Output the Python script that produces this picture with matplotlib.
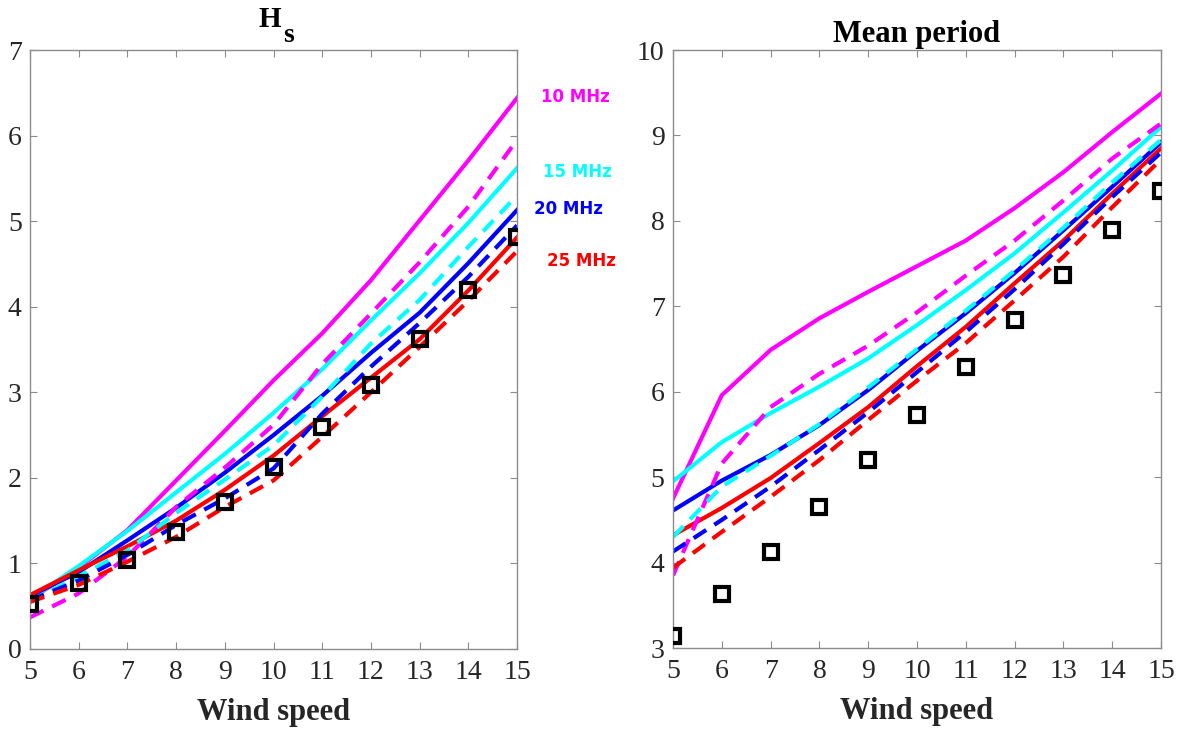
import matplotlib
matplotlib.use("Agg")
import matplotlib.pyplot as plt

wind = [5, 6, 7, 8, 9, 10, 11, 12, 13, 14, 15]
freqs = ["10 MHz", "15 MHz", "20 MHz", "25 MHz"]
colors = ["#ff00ff", "#00ffff", "#0000ff", "#ff0000"]

# significant wave height, solid = one method, dashed = the other
hs_solid = [
    [0.58, 0.95, 1.39, 1.97, 2.55, 3.14, 3.69, 4.31, 5.01, 5.71, 6.44],
    [0.58, 0.97, 1.38, 1.83, 2.28, 2.76, 3.27, 3.84, 4.39, 4.98, 5.62],
    [0.62, 0.90, 1.27, 1.65, 2.06, 2.50, 2.96, 3.46, 3.93, 4.51, 5.13],
    [0.63, 0.92, 1.20, 1.50, 1.86, 2.26, 2.72, 3.17, 3.62, 4.19, 4.81],
]
hs_dashed = [
    [0.37, 0.65, 1.08, 1.66, 2.12, 2.62, 3.33, 3.92, 4.52, 5.17, 5.95],
    [0.55, 0.85, 1.15, 1.59, 1.98, 2.38, 2.95, 3.57, 4.08, 4.70, 5.30],
    [0.57, 0.80, 1.10, 1.45, 1.76, 2.11, 2.75, 3.30, 3.81, 4.35, 4.95],
    [0.55, 0.75, 1.02, 1.31, 1.66, 1.97, 2.48, 3.00, 3.53, 4.07, 4.65],
]
hs_obs = [0.53, 0.77, 1.04, 1.37, 1.72, 2.13, 2.59, 3.08, 3.62, 4.19, 4.81]

# mean period
tm_solid = [
    [4.75, 5.96, 6.49, 6.86, 7.17, 7.47, 7.77, 8.15, 8.57, 9.04, 9.49],
    [4.95, 5.41, 5.75, 6.06, 6.39, 6.78, 7.19, 7.62, 8.10, 8.59, 9.10],
    [4.61, 4.96, 5.26, 5.61, 6.02, 6.48, 6.92, 7.39, 7.89, 8.40, 8.92],
    [4.32, 4.64, 4.99, 5.40, 5.82, 6.30, 6.76, 7.27, 7.77, 8.32, 8.85],
]
tm_dashed = [
    [3.85, 5.16, 5.82, 6.21, 6.54, 6.93, 7.36, 7.77, 8.24, 8.73, 9.14],
    [4.30, 4.89, 5.25, 5.62, 6.05, 6.50, 6.95, 7.42, 7.92, 8.45, 8.95],
    [4.13, 4.50, 4.89, 5.32, 5.76, 6.23, 6.70, 7.20, 7.73, 8.28, 8.80],
    [3.94, 4.36, 4.77, 5.20, 5.67, 6.13, 6.57, 7.07, 7.58, 8.16, 8.72],
]
tm_obs = [3.14, 3.63, 4.13, 4.65, 5.20, 5.73, 6.29, 6.84, 7.37, 7.89, 8.35]

plt.rcParams["font.family"] = ["Liberation Serif", "DejaVu Serif"]

fig = plt.figure(figsize=(11.83, 7.31), dpi=100)
ax1 = fig.add_axes([0.0254, 0.1122, 0.4117, 0.8194])
ax2 = fig.add_axes([0.5689, 0.1135, 0.4125, 0.818])


def draw(ax, solid, dashed, obs):
    for ys, c in zip(solid, colors):
        ax.plot(wind, ys, color=c, lw=3)
    for ys, c in zip(dashed, colors):
        ax.plot(wind, ys, color=c, lw=3, linestyle=(0, (3.6, 2.3)))
    ax.plot(wind, obs, linestyle="none", marker="s", ms=10, mfc="none",
            mec="black", mew=3, zorder=5)
    ax.set_xlim(5, 15)
    ax.set_xticks(wind)
    ax.tick_params(direction="in", top=True, right=True, length=5,
                   width=0.8, color="#8c8c8c", labelsize=20,
                   labelcolor="#262626")
    ax.tick_params(axis="x", pad=8)
    ax.tick_params(axis="y", pad=6)
    for sp in ax.spines.values():
        sp.set_color("#8c8c8c")
        sp.set_linewidth(1)
    ax.set_xlabel("Wind speed", fontsize=22, fontweight="bold",
                  color="#262626", labelpad=9)


draw(ax1, hs_solid, hs_dashed, hs_obs)
ax1.set_ylim(0, 7)
# H with a low subscript s, placed like the original title
fig.text(270 / 1183, 1 - 27 / 731, "H", fontsize=21, fontweight="bold",
         ha="center", va="baseline")
fig.text(283 / 1183, 1 - 42 / 731, "s", fontsize=20, fontweight="bold",
         ha="left", va="baseline")

draw(ax2, tm_solid, tm_dashed, tm_obs)
ax2.set_ylim(3, 10)
ax2.set_title("Mean period", fontsize=22, fontweight="bold", pad=6)

label_pos = [(16.19, 6.45), (16.23, 5.57), (16.05, 5.14), (16.33, 4.53)]
for name, c, (x, y) in zip(freqs, colors, label_pos):
    ax1.text(x, y, name, color=c, fontsize=12, fontweight="bold",
             family="DejaVu Sans", ha="center", va="center", clip_on=False)

fig.savefig("out.png", dpi=100)
